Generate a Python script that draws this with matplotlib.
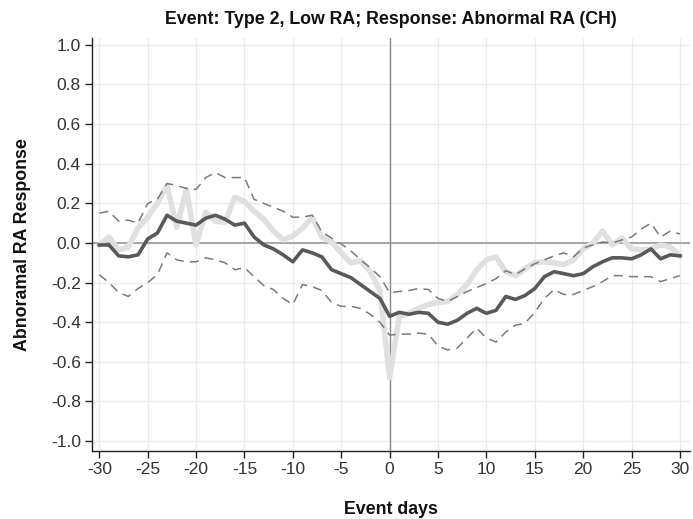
import numpy as np
import matplotlib
matplotlib.use("Agg")
import matplotlib.pyplot as plt

plt.rcParams["font.family"] = ["Liberation Sans", "DejaVu Sans"]
plt.rcParams["axes.unicode_minus"] = False

days = list(range(-30, 31))

# point estimate of the abnormal RA response
estimate = [
    -0.01, -0.01, -0.065, -0.07, -0.06, 0.02, 0.05, 0.14, 0.11, 0.10,
    0.09, 0.125, 0.14, 0.12, 0.09, 0.10, 0.03, -0.01, -0.03, -0.06,
    -0.095, -0.035, -0.05, -0.07, -0.135, -0.155, -0.175, -0.21, -0.245, -0.28,
    -0.37, -0.35, -0.36, -0.35, -0.355, -0.40, -0.41, -0.39, -0.355, -0.33,
    -0.355, -0.34, -0.27, -0.285, -0.265, -0.23, -0.17, -0.145, -0.155, -0.165,
    -0.155, -0.12, -0.095, -0.075, -0.075, -0.08, -0.06, -0.03, -0.08, -0.06,
    -0.065,
]

# raw comparison series
raw = [
    -0.01, 0.03, -0.035, -0.02, 0.075, 0.13, 0.20, 0.29, 0.08, 0.27,
    -0.01, 0.155, 0.11, 0.105, 0.23, 0.21, 0.16, 0.12, 0.06, 0.015,
    0.035, 0.075, 0.13, 0.03, 0.005, -0.05, -0.10, -0.09, -0.145, -0.24,
    -0.68, -0.37, -0.355, -0.33, -0.31, -0.30, -0.295, -0.26, -0.21, -0.135,
    -0.085, -0.07, -0.145, -0.165, -0.13, -0.10, -0.095, -0.10, -0.11, -0.085,
    -0.03, 0.0, 0.06, -0.01, 0.025, -0.03, -0.035, -0.03, -0.01, -0.02,
    -0.065,
]

# confidence band
upper = [
    0.15, 0.16, 0.11, 0.115, 0.10, 0.20, 0.22, 0.30, 0.29, 0.275,
    0.27, 0.33, 0.355, 0.33, 0.33, 0.33, 0.22, 0.20, 0.18, 0.16,
    0.13, 0.13, 0.14, 0.055, 0.025, -0.005, -0.04, -0.085, -0.125, -0.17,
    -0.25, -0.245, -0.24, -0.23, -0.235, -0.28, -0.295, -0.27, -0.245, -0.225,
    -0.205, -0.18, -0.14, -0.16, -0.13, -0.105, -0.085, -0.065, -0.05, -0.07,
    -0.025, -0.01, 0.005, 0.0, 0.015, 0.03, 0.07, 0.10, 0.03, 0.06,
    0.045,
]
lower = [
    -0.16, -0.20, -0.25, -0.27, -0.23, -0.20, -0.16, -0.05, -0.085, -0.095,
    -0.095, -0.075, -0.085, -0.10, -0.135, -0.125, -0.17, -0.215, -0.235, -0.28,
    -0.31, -0.21, -0.22, -0.24, -0.30, -0.32, -0.32, -0.33, -0.36, -0.40,
    -0.465, -0.46, -0.46, -0.455, -0.46, -0.52, -0.54, -0.53, -0.48, -0.43,
    -0.48, -0.50, -0.45, -0.415, -0.405, -0.35, -0.28, -0.235, -0.26, -0.26,
    -0.24, -0.22, -0.195, -0.165, -0.165, -0.17, -0.17, -0.17, -0.195, -0.18,
    -0.165,
]

xticks = list(range(-30, 31, 5))
yticks = [round(v, 1) + 0.0 for v in np.arange(-1.0, 1.01, 0.2)]
ytick_labels = ["0.0" if abs(v) < 1e-9 else f"{v:.1f}" for v in yticks]

fig = plt.figure(figsize=(6.93, 5.19), dpi=100)
ax = fig.add_axes([0.1328, 0.131, 0.863, 0.796])

ax.set_xlim(-30.75, 31.05)
ax.set_ylim(-1.05, 1.035)

ax.set_xticks(xticks)
ax.set_xticklabels([str(v) for v in xticks])
ax.set_yticks(yticks)
ax.set_yticklabels(ytick_labels)
ax.grid(True, color="#ececec", linewidth=1.0, zorder=0)
ax.set_axisbelow(True)

ax.axhline(0, color="#a6a6a6", linewidth=1.4, zorder=1)
ax.axvline(0, color="#8a8a8a", linewidth=1.0, zorder=1)

ax.plot(days, raw, color="#e0e0e0", linewidth=4.0, zorder=2)
ax.plot(days, upper, color="#7a7a7a", linewidth=1.1, dashes=(6, 4), zorder=3)
ax.plot(days, lower, color="#7a7a7a", linewidth=1.1, dashes=(6, 4), zorder=3)
ax.plot(days, estimate, color="#595959", linewidth=2.6, zorder=4)

for side in ("top", "right"):
    ax.spines[side].set_visible(False)
for side in ("left", "bottom"):
    ax.spines[side].set_color("#222222")
    ax.spines[side].set_linewidth(1.0)

ax.tick_params(axis="both", direction="out", length=5, width=1.0,
               color="#222222", labelsize=12.5, labelcolor="#333333", pad=3)

ax.set_title("Event: Type 2, Low RA; Response: Abnormal RA (CH)",
             fontsize=12.8, fontweight="bold", color="#111111", pad=10)
ax.set_xlabel("Event days", fontsize=12.8, fontweight="bold", color="#111111", labelpad=17)
ax.set_ylabel("Abnoramal RA Response", fontsize=12.8, fontweight="bold", color="#111111", labelpad=14)

fig.savefig("out.png", dpi=100)
